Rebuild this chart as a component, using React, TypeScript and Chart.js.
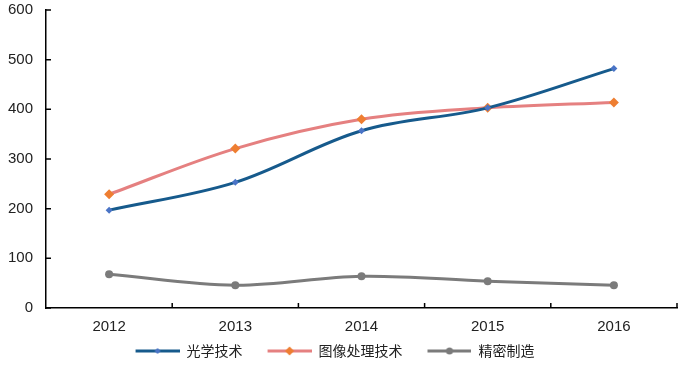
import React, { useEffect, useRef } from "react";
import { Chart, registerables } from "chart.js";

Chart.register(...registerables);

const categories = ["2012", "2013", "2014", "2015", "2016"];
const optics = [197, 253, 357, 403, 482];
const imaging = [229, 321, 380, 403, 414];
const precision = [68, 46, 64, 54, 46];
const seriesNames = ["光学技术", "图像处理技术", "精密制造"];

const lineColors = ["#165A8C", "#E58080", "#7B7B7B"];
const markerColors = ["#4A74C6", "#EE7E31", "#7B7B7B"];

const ICON_GAP = 21;
const ICON_LINE = 44;

function legendIcon(lineColor: string, markerColor: string, shape: string, r: number) {
  const c = document.createElement("canvas");
  c.width = ICON_GAP + ICON_LINE;
  c.height = 12;
  const ctx = c.getContext("2d")!;
  ctx.strokeStyle = lineColor;
  ctx.lineWidth = 3;
  ctx.beginPath();
  ctx.moveTo(ICON_GAP, 6);
  ctx.lineTo(ICON_GAP + ICON_LINE, 6);
  ctx.stroke();
  ctx.fillStyle = markerColor;
  const cx = ICON_GAP + ICON_LINE / 2;
  ctx.beginPath();
  if (shape === "circle") {
    ctx.arc(cx, 6, r, 0, Math.PI * 2);
  } else {
    ctx.moveTo(cx, 6 - r);
    ctx.lineTo(cx + r, 6);
    ctx.lineTo(cx, 6 + r);
    ctx.lineTo(cx - r, 6);
    ctx.closePath();
  }
  ctx.fill();
  return c;
}

const innerTicks = {
  id: "innerTicks",
  afterLayout(chart: any) {
    if (chart.legend) chart.legend.right -= 28;
  },
  afterDraw(chart: any) {
    const ctx = chart.ctx;
    const { x, y } = chart.scales;
    const area = chart.chartArea;
    ctx.save();
    ctx.strokeStyle = "#000";
    ctx.lineWidth = 1.5;
    ctx.beginPath();
    y.ticks.forEach((t: any) => {
      const py = y.getPixelForValue(t.value);
      ctx.moveTo(area.left, py);
      ctx.lineTo(area.left + 5, py);
    });
    const n = categories.length;
    for (let i = 0; i < n; i++) {
      const p0 = x.getPixelForValue(i);
      const p1 = i < n - 1 ? x.getPixelForValue(i + 1) : p0 + (p0 - x.getPixelForValue(i - 1));
      const bx = (p0 + p1) / 2;
      ctx.moveTo(bx, area.bottom);
      ctx.lineTo(bx, area.bottom - 5);
    }
    ctx.stroke();
    ctx.restore();
  },
};

export default function App() {
  const ref = useRef<HTMLCanvasElement>(null);
  useEffect(() => {
    const icons = [
      legendIcon(lineColors[0], markerColors[0], "diamond", 3),
      legendIcon(lineColors[1], markerColors[1], "diamond", 4.5),
      legendIcon(lineColors[2], markerColors[2], "circle", 3.5),
    ];
    const chart = new Chart(ref.current!, {
      type: "line",
      data: {
        labels: categories,
        datasets: [
          {
            label: seriesNames[0],
            data: optics,
            borderColor: lineColors[0],
            backgroundColor: markerColors[0],
            pointBackgroundColor: markerColors[0],
            pointBorderWidth: 0,
            pointStyle: "rectRot",
            pointRadius: 3.5,
            borderWidth: 3,
            tension: 0.35,
          },
          {
            label: seriesNames[1],
            data: imaging,
            borderColor: lineColors[1],
            backgroundColor: markerColors[1],
            pointBackgroundColor: markerColors[1],
            pointBorderWidth: 0,
            pointStyle: "rectRot",
            pointRadius: 5,
            borderWidth: 3,
            tension: 0.35,
          },
          {
            label: seriesNames[2],
            data: precision,
            borderColor: lineColors[2],
            backgroundColor: markerColors[2],
            pointBackgroundColor: markerColors[2],
            pointBorderWidth: 0,
            pointStyle: "circle",
            pointRadius: 4,
            borderWidth: 3,
            tension: 0.35,
          },
        ],
      },
      options: {
        animation: false,
        responsive: false,
        maintainAspectRatio: false,
        layout: { padding: { top: 10, right: 6, left: 0, bottom: 0 } },
        plugins: {
          tooltip: { enabled: false },
          legend: {
            position: "bottom",
            labels: {
              usePointStyle: true,
              pointStyleWidth: ICON_GAP + ICON_LINE,
              padding: 4,
              color: "#222",
              font: { family: "'Noto Sans CJK SC', sans-serif", size: 14 },
              generateLabels: (ch: any) =>
                ch.data.datasets.map((ds: any, i: number) => ({
                  text: ds.label,
                  pointStyle: icons[i],
                  fillStyle: "transparent",
                  strokeStyle: "transparent",
                  lineWidth: 0,
                  datasetIndex: i,
                  hidden: false,
                  fontColor: "#222",
                })),
            },
          },
        },
        scales: {
          x: {
            offset: true,
            grid: { display: false, drawTicks: false },
            border: { color: "#000", width: 1.5 },
            ticks: {
              color: "#222",
              padding: 10,
              font: { family: "'Liberation Sans', Arial, sans-serif", size: 15 },
            },
            afterFit: (s: any) => {
              s.height = 32;
              s.paddingLeft = 0;
              s.paddingRight = 0;
            },
          },
          y: {
            min: 0,
            max: 600,
            grid: { display: false, drawTicks: false },
            border: { color: "#000", width: 1.5 },
            ticks: {
              stepSize: 100,
              color: "#222",
              padding: 13,
              font: { family: "'Liberation Sans', Arial, sans-serif", size: 15 },
            },
            afterFit: (s: any) => {
              s.width = 46;
              s.paddingTop = 0;
              s.paddingBottom = 0;
            },
          },
        },
      },
      plugins: [innerTicks],
    });
    return () => chart.destroy();
  }, []);
  return (
    <div style={{ position: "fixed", left: 0, top: 0, width: 683, height: 368, background: "#fff" }}>
      <canvas ref={ref} width={683} height={368} />
    </div>
  );
}
